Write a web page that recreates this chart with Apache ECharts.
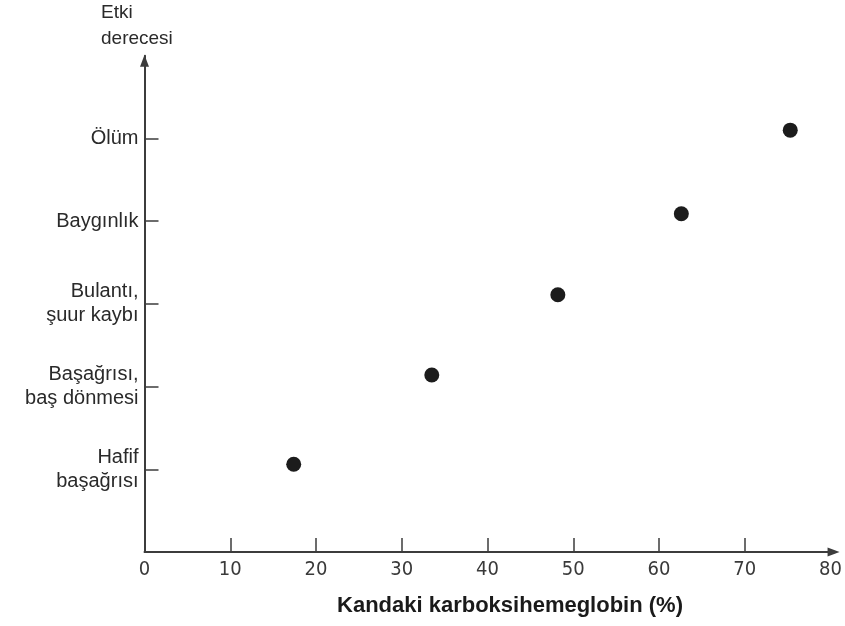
<!DOCTYPE html>
<html>
<head>
<meta charset="utf-8">
<script src="https://cdn.jsdelivr.net/npm/echarts@6/dist/echarts.min.js"></script>
<style>
html,body{margin:0;padding:0;background:#fff;}
#chart{width:845px;height:626px;}
</style>
</head>
<body>
<div id="chart"></div>
<script>
// Data
const xValues = [17.4, 33.5, 48.2, 62.6, 75.3];
const yValues = [1.06, 2.14, 3.11, 4.09, 5.10];
const yLevels = [1, 2, 3, 4, 5];
const yLabels = ['Hafif\nbaşağrısı', 'Başağrısı,\nbaş dönmesi', 'Bulantı,\nşuur kaybı', 'Baygınlık', 'Ölüm'];
const xTickValues = [10, 20, 30, 40, 50, 60, 70];
const xTitle = 'Kandaki karboksihemeglobin (%)';
const yTitle = 'Etki\nderecesi';

const axisColor = '#3c3c3c';
const textColor = '#2a2a2a';

const chart = echarts.init(document.getElementById('chart'), null, {renderer: 'canvas'});
chart.setOption({
  animation: false,
  backgroundColor: '#ffffff',
  grid: {left: 144.5, right: 12.5, top: 55.7, bottom: 74},
  xAxis: {
    type: 'value',
    min: 0, max: 80, interval: 10,
    splitLine: {show: false},
    axisLine: {
      lineStyle: {color: axisColor, width: 2},
      symbol: ['none', 'triangle'],
      symbolSize: [9, 12],
      symbolOffset: [0, 3]
    },
    axisTick: {
      inside: true, length: 14,
      customValues: xTickValues,
      lineStyle: {color: axisColor, width: 1.5}
    },
    axisLabel: {
      margin: 8,
      color: '#3a3a3a',
      fontSize: 20,
      fontFamily: "'Liberation Sans Narrow', 'DejaVu Sans Condensed', sans-serif"
    }
  },
  yAxis: {
    type: 'value',
    min: 0, max: 6, interval: 1,
    splitLine: {show: false},
    axisLine: {
      lineStyle: {color: axisColor, width: 2},
      symbol: ['none', 'triangle'],
      symbolSize: [9, 12],
      symbolOffset: [0, -5]
    },
    axisTick: {
      inside: true, length: 14,
      customValues: yLevels,
      lineStyle: {color: axisColor, width: 1.5}
    },
    axisLabel: {
      margin: 6,
      customValues: yLevels,
      color: textColor,
      fontSize: 20,
      lineHeight: 24,
      align: 'right',
      fontFamily: "'Liberation Sans', Arial, sans-serif",
      formatter: function (v) { return yLabels[Math.round(v) - 1] || ''; }
    }
  },
  graphic: [
    {
      type: 'text',
      x: 510, y: 606,
      style: {
        text: xTitle,
        fill: '#1a1a1a',
        font: "bold 22px 'Liberation Sans', Arial, sans-serif",
        align: 'center',
        verticalAlign: 'middle'
      }
    },
    {
      type: 'text',
      x: 101, y: 26,
      style: {
        text: yTitle,
        fill: textColor,
        font: "19px 'Liberation Sans', Arial, sans-serif",
        lineHeight: 26,
        align: 'left',
        verticalAlign: 'middle'
      }
    }
  ],
  series: [{
    type: 'scatter',
    data: xValues.map((x, i) => [x, yValues[i]]),
    symbol: 'circle',
    symbolSize: 15,
    itemStyle: {color: '#1c1c1c', opacity: 1}
  }]
});
</script>
</body>
</html>
